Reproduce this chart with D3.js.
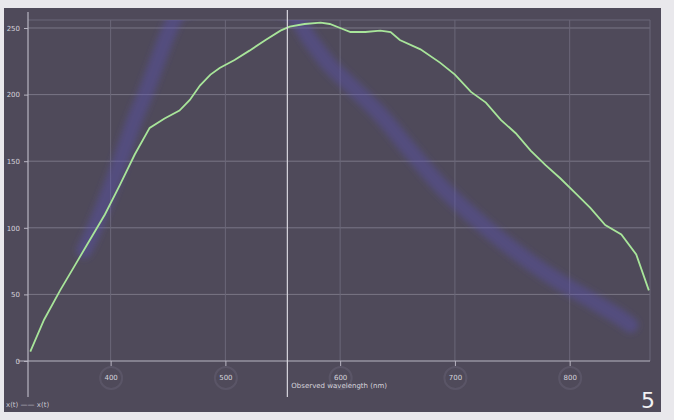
<!DOCTYPE html>
<html>
<head>
<meta charset="utf-8">
<script src="https://cdn.jsdelivr.net/npm/d3@7"></script>
<style>
  body { margin: 0; background: #e9e8ec; }
  svg { display: block; }
</style>
</head>
<body>
<div id="chart"></div>
<script>
"use strict";

// == DATA ==
var xTicks = [400, 500, 600, 700, 800];
var yTicks = [0, 50, 100, 150, 200, 250];

// measured spectrum (green)
var greenWave = [330, 342, 356, 369, 382, 395, 408, 421, 434, 447, 460, 469, 478, 487, 495, 508, 521, 535, 548, 556,
                 569, 583, 591, 600, 609, 622, 635, 644, 652, 670, 687, 700, 714, 727, 740, 753, 766, 779, 792, 805,
                 818, 831, 845, 858, 869];
var greenValue = [7, 31, 53, 72, 91, 110, 132, 155, 175, 182, 188, 196, 207, 215, 220, 226, 233, 241, 248, 251,
                  253, 254, 253, 250, 247, 247, 248, 247, 241, 234, 224, 215, 202, 194, 181, 171, 158, 147, 137, 126,
                  115, 102, 95, 80, 53];

// reference curve (blue band)
var blueWave = [377, 386, 399, 408, 421, 430, 443, 452, 460, 504, 556, 574, 591, 609, 635, 661, 687, 714, 740, 766, 792, 818, 845, 853];
var blueValue = [83, 100, 128, 149, 181, 200, 230, 250, 262, 270, 262, 241, 222, 207, 185, 158, 132, 110, 91, 74, 59, 46, 32, 27];

var cursorWave = 554;
var xTitle = "Observed wavelength (nm)";
var legendText = "x(t)  ——  x(t)";
var pageNumber = "5";

// == BOILERPLATE ==
var W = 674, H = 420;
var margin = { top: 20, right: 24, bottom: 59, left: 28 },
    width = W - margin.left - margin.right,
    height = H - margin.top - margin.bottom;

var root = d3.select("#chart")
  .append("svg")
  .attr("width", W)
  .attr("height", H);

// dark panel
root.append("rect")
  .attr("x", 4).attr("y", 8)
  .attr("width", 657).attr("height", 404)
  .attr("fill", "#4f4a5a");

var svg = root.append("g")
  .attr("transform", "translate(" + margin.left + "," + margin.top + ")");

var x = d3.scaleLinear().domain([328, 870]).range([0, width]);
var y = d3.scaleLinear().domain([0, 256]).range([height, 0]);

var defs = root.append("defs");
defs.append("clipPath").attr("id", "plotclip")
  .append("rect").attr("width", width).attr("height", height);
defs.append("filter").attr("id", "blur")
  .append("feGaussianBlur").attr("stdDeviation", 3);

// grid
svg.append("g")
  .selectAll("line.h")
  .data(yTicks.slice(1))
  .enter().append("line")
  .attr("x1", 0).attr("x2", width)
  .attr("y1", function (d) { return y(d); })
  .attr("y2", function (d) { return y(d); })
  .attr("stroke", "#7a7686").attr("stroke-width", 1);

svg.append("g")
  .selectAll("line.v")
  .data(xTicks)
  .enter().append("line")
  .attr("x1", function (d) { return x(d); })
  .attr("x2", function (d) { return x(d); })
  .attr("y1", 0).attr("y2", height)
  .attr("stroke", "#6b6778").attr("stroke-width", 1);

// frame top line
svg.append("line")
  .attr("x1", 0).attr("x2", width).attr("y1", 0).attr("y2", 0)
  .attr("stroke", "#6b6778");
svg.append("line")
  .attr("x1", width).attr("x2", width).attr("y1", 0).attr("y2", height)
  .attr("stroke", "#6b6778");

// axes
var yAxis = d3.axisLeft(y).tickValues(yTicks).tickSize(4);
var xAxis = d3.axisBottom(x).tickValues(xTicks).tickSize(5);

var gy = svg.append("g").call(yAxis);
var gx = svg.append("g").attr("transform", "translate(0," + height + ")").call(xAxis);

[gx, gy].forEach(function (g) {
  g.select(".domain").remove();
  g.selectAll("line").attr("stroke", "#b8b5c2");
  g.selectAll("text")
    .attr("fill", "#d6d4dc")
    .style("font-family", "DejaVu Sans")
    .style("font-size", "7px");
});
gy.selectAll("text").attr("x", -8);
gx.selectAll("text").attr("dy", "1.6em");

// halo rings round x labels
gx.selectAll(".tick").append("circle")
  .attr("cx", 0).attr("cy", 17).attr("r", 11)
  .attr("fill", "none").attr("stroke", "#625e6f").attr("stroke-width", 2)
  .attr("opacity", 0.6);

// axis lines
svg.append("line")
  .attr("x1", 0).attr("x2", 0).attr("y1", -8).attr("y2", height + 36)
  .attr("stroke", "#b8b5c2").attr("stroke-width", 1.2);
svg.append("line")
  .attr("x1", -10).attr("x2", width).attr("y1", height).attr("y2", height)
  .attr("stroke", "#b8b5c2").attr("stroke-width", 1.2);

var line = d3.line()
  .x(function (d) { return x(d[0]); })
  .y(function (d) { return y(d[1]); });

var plot = svg.append("g").attr("clip-path", "url(#plotclip)");

// blue band
plot.append("path")
  .datum(d3.zip(blueWave, blueValue))
  .attr("d", line.curve(d3.curveCatmullRom))
  .attr("fill", "none")
  .attr("stroke", "#5a52b8")
  .attr("stroke-width", 16)
  .attr("stroke-opacity", 0.38)
  .attr("stroke-linecap", "round")
  .attr("filter", "url(#blur)");

// green line
plot.append("path")
  .datum(d3.zip(greenWave, greenValue))
  .attr("d", line.curve(d3.curveLinear))
  .attr("fill", "none")
  .attr("stroke", "#a8e59a")
  .attr("stroke-width", 1.8);

// cursor
svg.append("line")
  .attr("x1", x(cursorWave)).attr("x2", x(cursorWave))
  .attr("y1", -10).attr("y2", height + 36)
  .attr("stroke", "#d8d6de").attr("stroke-width", 1.2);

// axis title
svg.append("text")
  .attr("x", x(cursorWave) + 4).attr("y", height + 27)
  .attr("fill", "#d6d4dc")
  .style("font-family", "DejaVu Sans")
  .style("font-size", "7px")
  .text(xTitle);

// legend
root.append("text")
  .attr("x", 6).attr("y", 407)
  .attr("fill", "#c9c7d0")
  .style("font-family", "DejaVu Sans")
  .style("font-size", "7px")
  .text(legendText);

// page number
root.append("text")
  .attr("x", 648).attr("y", 408)
  .attr("text-anchor", "middle")
  .attr("fill", "#f2f2f4")
  .style("font-family", "DejaVu Sans")
  .style("font-size", "22px")
  .text(pageNumber);
</script>
</body>
</html>
